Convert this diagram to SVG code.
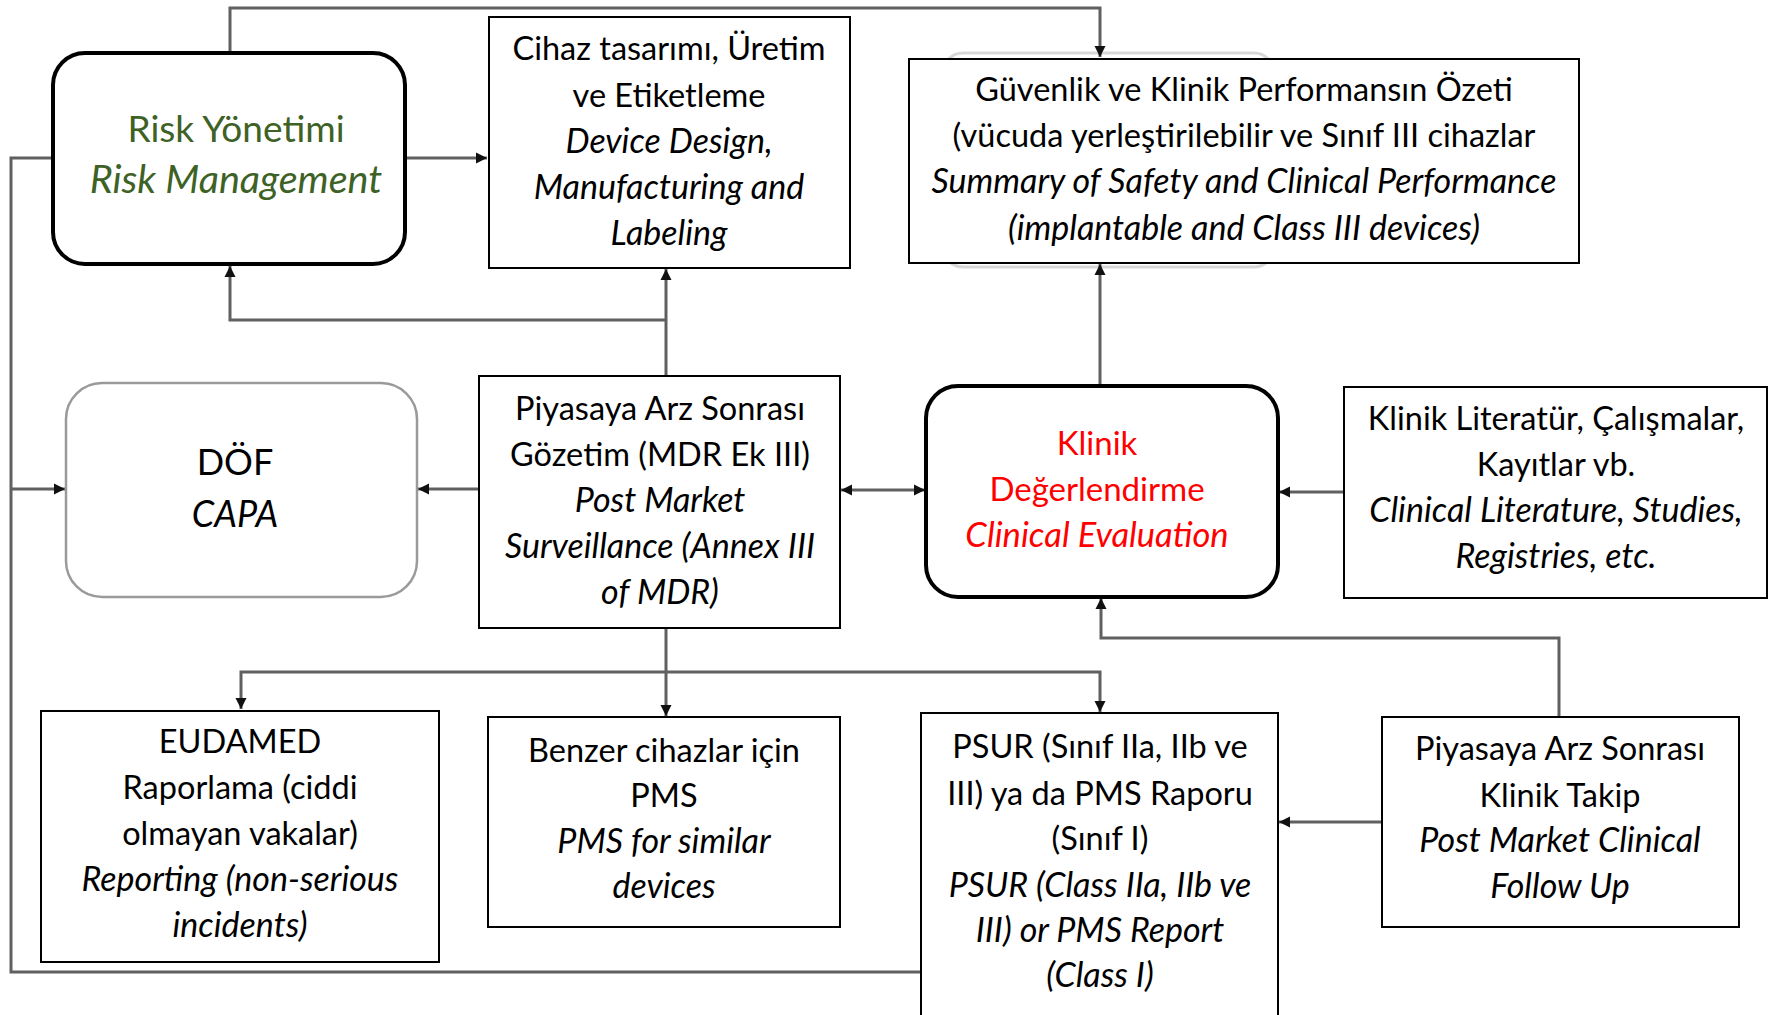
<svg xmlns="http://www.w3.org/2000/svg" width="1775" height="1015" viewBox="0 0 1775 1015">
<style>
text{font-family:Lato,"Open Sans","Liberation Sans",sans-serif;font-size:32.5px;fill:#000;text-anchor:middle}
.i{font-style:italic;font-size:34px}
.rg{font-size:37px}
.ri{font-size:39.5px}
.big{font-size:36px}
.cr{font-size:33px}
.ci{font-size:34.5px}
.g{fill:#3e6126}
.r{fill:#ff0000}
.box{fill:#fff;stroke:#000;stroke-width:2}
.rbox{fill:#fff;stroke:#000;stroke-width:4}
.gbox{fill:#fff;stroke:#9a9a9a;stroke-width:2.5}
.ghost{fill:none;stroke:#d8d8d8;stroke-width:3}
.c{fill:none;stroke:#606060;stroke-width:3}
</style>
<defs>
<marker id="ah" viewBox="0 0 10 10" refX="10" refY="5" markerWidth="3.8" markerHeight="3.8" orient="auto-start-reverse" markerUnits="strokeWidth">
<path d="M0 0L10 5L0 10z" fill="#111"/>
</marker>
</defs>
<rect width="1775" height="1015" fill="#fff"/>
<rect class="ghost" x="943" y="53" width="331" height="214" rx="20"/>

<g id="connectors">
<path class="c" d="M230 52V8H1100V57" marker-end="url(#ah)"/>
<path class="c" d="M405 158H487" marker-end="url(#ah)"/>
<path class="c" d="M921 972H11V158H52"/>
<path class="c" d="M11 489H65" marker-end="url(#ah)"/>
<path class="c" d="M666 376V269" marker-end="url(#ah)"/>
<path class="c" d="M666 320H230V266" marker-end="url(#ah)"/>
<path class="c" d="M479 489H418" marker-end="url(#ah)"/>
<path class="c" d="M841 490H925" marker-start="url(#ah)" marker-end="url(#ah)"/>
<path class="c" d="M1344 492H1279" marker-end="url(#ah)"/>
<path class="c" d="M1100 385V264" marker-end="url(#ah)"/>
<path class="c" d="M666 628V716" marker-end="url(#ah)"/>
<path class="c" d="M241 709V672H1100V712" marker-start="url(#ah)" marker-end="url(#ah)"/>
<path class="c" d="M1559 717V638H1101V598" marker-end="url(#ah)"/>
<path class="c" d="M1382 822H1279" marker-end="url(#ah)"/>
</g>

<g id="risk">
<rect class="rbox" x="53" y="53" width="352" height="211" rx="32"/>
<text class="rg g" x="236" y="142">Risk Yönetimi</text>
<text class="ri g i" x="236" y="193">Risk Management</text>
</g>

<g id="cihaz">
<rect class="box" x="489" y="17" width="361" height="251"/>
<text x="669" y="60">Cihaz tasarımı, Üretim</text>
<text x="669" y="107">ve Etiketleme</text>
<text class="i" x="669" y="153">Device Design,</text>
<text class="i" x="669" y="199">Manufacturing and</text>
<text class="i" x="669" y="245">Labeling</text>
</g>

<g id="sscp">
<rect class="box" x="909" y="59" width="670" height="204"/>
<text x="1244" y="101">Güvenlik ve Klinik Performansın Özeti</text>
<text x="1244" y="147">(vücuda yerleştirilebilir ve Sınıf III cihazlar</text>
<text class="i" x="1244" y="193">Summary of Safety and Clinical Performance</text>
<text class="i" x="1244" y="240">(implantable and Class III devices)</text>
</g>

<g id="dof">
<rect class="gbox" x="66" y="383" width="351" height="214" rx="36"/>
<text class="big" x="235" y="475">DÖF</text>
<text class="big i" x="235" y="527">CAPA</text>
</g>

<g id="pms">
<rect class="box" x="479" y="376" width="361" height="252"/>
<text x="660" y="420">Piyasaya Arz Sonrası</text>
<text x="660" y="466">Gözetim (MDR Ek III)</text>
<text class="i" x="660" y="512">Post Market</text>
<text class="i" x="660" y="558">Surveillance (Annex III</text>
<text class="i" x="660" y="604">of MDR)</text>
</g>

<g id="clinical-evaluation">
<rect class="rbox" x="926" y="386" width="352" height="211" rx="32"/>
<text class="cr r" x="1097" y="455">Klinik</text>
<text class="cr r" x="1097" y="501">Değerlendirme</text>
<text class="ci r i" x="1097" y="547">Clinical Evaluation</text>
</g>

<g id="clinical-literature">
<rect class="box" x="1344" y="387" width="423" height="211"/>
<text x="1556" y="430">Klinik Literatür, Çalışmalar,</text>
<text x="1556" y="476">Kayıtlar vb.</text>
<text class="i" x="1556" y="522">Clinical Literature, Studies,</text>
<text class="i" x="1556" y="568">Registries, etc.</text>
</g>

<g id="eudamed">
<rect class="box" x="41" y="711" width="398" height="251"/>
<text x="240" y="753">EUDAMED</text>
<text x="240" y="799">Raporlama (ciddi</text>
<text x="240" y="845">olmayan vakalar)</text>
<text class="i" x="240" y="891">Reporting (non-serious</text>
<text class="i" x="240" y="937">incidents)</text>
</g>

<g id="pms-similar">
<rect class="box" x="488" y="717" width="352" height="210"/>
<text x="664" y="762">Benzer cihazlar için</text>
<text x="664" y="807">PMS</text>
<text class="i" x="664" y="853">PMS for similar</text>
<text class="i" x="664" y="898">devices</text>
</g>

<g id="psur">
<rect class="box" x="921" y="713" width="357" height="320"/>
<text x="1100" y="758">PSUR (Sınıf IIa, IIb ve</text>
<text x="1100" y="805">III) ya da PMS Raporu</text>
<text x="1100" y="850">(Sınıf I)</text>
<text class="i" x="1100" y="897">PSUR (Class IIa, IIb ve</text>
<text class="i" x="1100" y="942">III) or PMS Report</text>
<text class="i" x="1100" y="987">(Class I)</text>
</g>

<g id="pmcf">
<rect class="box" x="1382" y="717" width="357" height="210"/>
<text x="1560" y="760">Piyasaya Arz Sonrası</text>
<text x="1560" y="807">Klinik Takip</text>
<text class="i" x="1560" y="852">Post Market Clinical</text>
<text class="i" x="1560" y="898">Follow Up</text>
</g>
</svg>
